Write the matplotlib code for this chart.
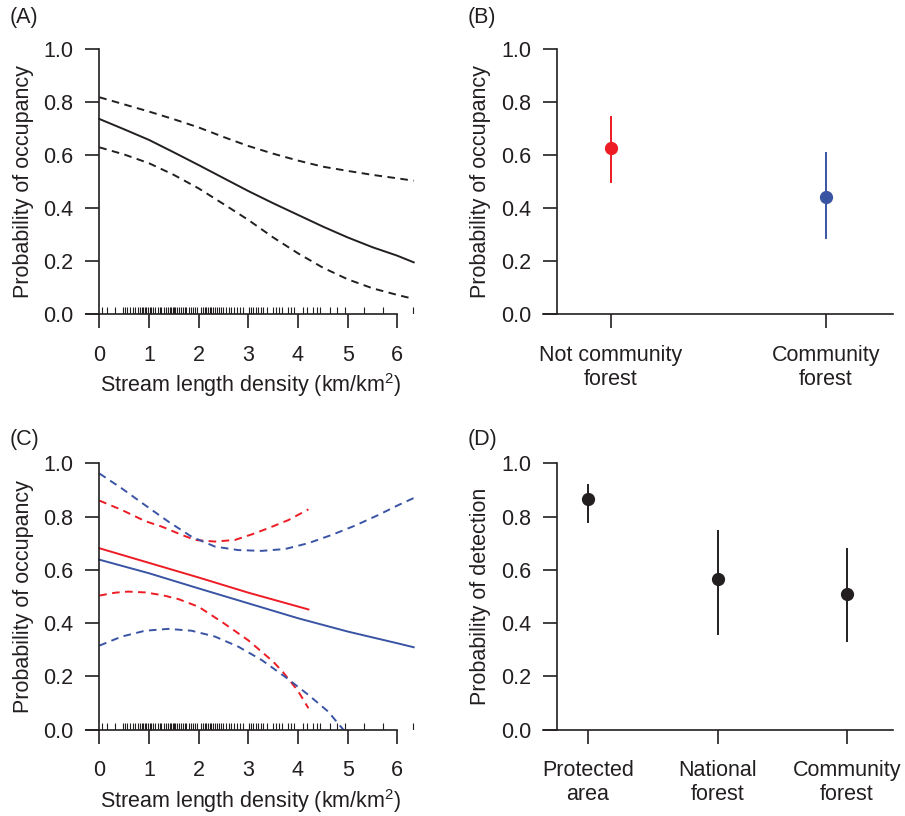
import numpy as np
import matplotlib
matplotlib.use('Agg')
import matplotlib.pyplot as plt

plt.rcParams['font.family'] = ['Liberation Sans', 'DejaVu Sans']
plt.rcParams['mathtext.fontset'] = 'custom'
plt.rcParams['mathtext.rm'] = 'Liberation Sans'
fs = 15.5
plt.rcParams['font.size'] = fs

ink = '#231F20'
red = '#ED1C24'
blue = '#3A54A4'

# ---- Datos ----
# (A) ocupación vs densidad de arroyos
xA = [0, 0.5, 1, 1.5, 2, 2.5, 3, 3.5, 4, 4.5, 5, 5.5, 6, 6.33]
A_fit = [0.736, 0.697, 0.657, 0.610, 0.562, 0.513, 0.464, 0.418, 0.374,
         0.330, 0.289, 0.252, 0.220, 0.195]
A_hi = [0.818, 0.791, 0.764, 0.735, 0.704, 0.668, 0.634, 0.605, 0.579,
        0.556, 0.540, 0.525, 0.512, 0.503]
A_lo = [0.629, 0.602, 0.569, 0.525, 0.474, 0.415, 0.355, 0.289, 0.229,
        0.175, 0.131, 0.097, 0.072, 0.057]

# valores observados (rug)
rug_x = [0.06, 0.16, 0.32, 0.48, 0.52, 0.55, 0.62, 0.68, 0.72, 0.78, 0.82,
         0.85, 0.88, 0.92, 0.95, 0.98, 1.02, 1.05, 1.08, 1.12, 1.18, 1.22,
         1.25, 1.30, 1.35, 1.38, 1.42, 1.45, 1.48, 1.50, 1.53, 1.56, 1.60,
         1.64, 1.68, 1.72, 1.75, 1.80, 1.84, 1.88, 1.92, 1.97, 2.04, 2.08,
         2.12, 2.15, 2.18, 2.22, 2.25, 2.28, 2.32, 2.36, 2.40, 2.45, 2.50,
         2.56, 2.62, 2.66, 2.72, 2.78, 2.84, 2.90, 3.02, 3.06, 3.10, 3.15,
         3.20, 3.25, 3.30, 3.37, 3.49, 3.55, 3.62, 3.67, 3.79, 3.85, 3.92,
         4.11, 4.18, 4.30, 4.38, 4.44, 4.64, 4.78, 4.95, 5.32, 5.71, 6.32]

# (B) bosque comunitario
B_labels = ['Not community\nforest', 'Community\nforest']
B_mean = [0.628, 0.442]
B_lo = [0.498, 0.288]
B_hi = [0.742, 0.609]
B_colors = [red, blue]

# (C) interacción, rojo = no comunitario, azul = comunitario
xC_red = [0, 1, 2, 3, 4, 4.21]
C_red_fit = [0.681, 0.626, 0.571, 0.514, 0.462, 0.451]
xC_red_hi = [0, 0.45, 0.92, 1.26, 1.66, 1.93, 2.33, 2.73, 3.07, 3.40, 3.81, 4.21]
C_red_hi = [0.860, 0.825, 0.783, 0.762, 0.731, 0.712, 0.706, 0.712, 0.733,
            0.756, 0.787, 0.827]
xC_red_lo = [0, 0.32, 0.58, 0.92, 1.26, 1.59, 2.0, 2.5, 3.0, 3.5, 3.7, 4.0, 4.21]
C_red_lo = [0.503, 0.514, 0.518, 0.515, 0.505, 0.490, 0.461, 0.400, 0.335,
            0.255, 0.215, 0.145, 0.080]

xC_blue = [0, 1, 2, 3, 4, 5, 6, 6.33]
C_blue_fit = [0.638, 0.587, 0.530, 0.474, 0.418, 0.368, 0.324, 0.309]
xC_blue_hi = [0, 0.45, 0.92, 1.39, 1.86, 2.33, 2.80, 3.27, 3.74, 4.21, 4.68,
              5.15, 5.62, 6.02, 6.36]
C_blue_hi = [0.962, 0.906, 0.843, 0.781, 0.724, 0.687, 0.674, 0.671, 0.678,
             0.700, 0.731, 0.766, 0.806, 0.843, 0.872]
xC_blue_lo = [0, 0.45, 0.92, 1.39, 1.86, 2.33, 2.80, 3.27, 3.74, 4.21, 4.61,
              4.91, 5.0]
C_blue_lo = [0.315, 0.349, 0.371, 0.378, 0.371, 0.349, 0.311, 0.261, 0.198,
             0.130, 0.067, 0.0, -0.02]

# (D) detección
D_labels = ['Protected\narea', 'National\nforest', 'Community\nforest']
D_mean = [0.865, 0.565, 0.508]
D_lo = [0.779, 0.359, 0.333]
D_hi = [0.920, 0.746, 0.679]

W, H = 905, 816
fig = plt.figure(figsize=(W / 100, H / 100), dpi=100)

def px_axes(x0, x1, y_top, y_bot):
    return fig.add_axes([x0 / W, 1 - y_bot / H, (x1 - x0) / W, (y_bot - y_top) / H])

def estilo(ax, x_left_spine, x_end):
    for s in ['top', 'right']:
        ax.spines[s].set_visible(False)
    for s in ['left', 'bottom']:
        ax.spines[s].set_linewidth(1.2)
        ax.spines[s].set_color(ink)
    ax.spines['left'].set_position(('data', x_left_spine))
    ax.spines['left'].set_bounds(0, 1)
    ax.spines['bottom'].set_bounds(ax.get_xlim()[0], x_end)
    ax.set_ylim(0, 1)
    ax.set_yticks([0, 0.2, 0.4, 0.6, 0.8, 1.0])
    ax.set_yticklabels(['0.0', '0.2', '0.4', '0.6', '0.8', '1.0'])
    ax.tick_params(length=10, width=1.2, color=ink, labelcolor=ink,
                   labelsize=fs, pad=8.5)
    ax.tick_params(axis='x', pad=12)

dash = (0, (3.9, 2.8))
lw = 1.4

# ---- (A) ----
axA = px_axes(86, 414.7, 49, 314)
axA.set_xlim(-0.268, 6.35)
axA.plot(xA, A_fit, color=ink, lw=lw)
axA.plot(xA, A_hi, color=ink, lw=lw, linestyle=dash)
axA.plot(xA, A_lo, color=ink, lw=lw, linestyle=dash)
axA.vlines(rug_x, 0, 0.025, color=ink, lw=0.8)
estilo(axA, 0, 6)
axA.set_xticks(range(7))
axA.set_xlabel('Stream length density (km/km$^{2}$)', color=ink, labelpad=4)
axA.set_ylabel('Probability of occupancy', color=ink, labelpad=7)

# ---- (B) ----
axB = px_axes(543, 893, 49, 314)
axB.set_xlim(0.685, 2.313)
for i in range(2):
    axB.plot([i + 1, i + 1], [B_lo[i], B_hi[i]], color=B_colors[i], lw=lw)
    axB.plot(i + 1, B_mean[i], 'o', color=B_colors[i], ms=8.5)
estilo(axB, 0.750, 2.313)
axB.set_xticks([1, 2])
axB.set_xticklabels(B_labels)
axB.set_ylabel('Probability of occupancy', color=ink, labelpad=7)

# ---- (C) ----
axC = px_axes(86, 414.7, 463.3, 729.5)
axC.set_xlim(-0.268, 6.35)
axC.plot(xC_red, C_red_fit, color=red, lw=lw)
axC.plot(xC_red_hi, C_red_hi, color=red, lw=lw, linestyle=dash)
axC.plot(xC_red_lo, C_red_lo, color=red, lw=lw, linestyle=dash)
axC.plot(xC_blue, C_blue_fit, color=blue, lw=lw)
axC.plot(xC_blue_hi, C_blue_hi, color=blue, lw=lw, linestyle=dash)
axC.plot(xC_blue_lo, C_blue_lo, color=blue, lw=lw, linestyle=dash)
axC.vlines(rug_x, 0, 0.025, color=ink, lw=0.8)
estilo(axC, 0, 6)
axC.set_xticks(range(7))
axC.set_xlabel('Stream length density (km/km$^{2}$)', color=ink, labelpad=4)
axC.set_ylabel('Probability of occupancy', color=ink, labelpad=7)

# ---- (D) ----
axD = px_axes(543, 893, 463.3, 729.5)
axD.set_xlim(0.6525, 3.355)
for i in range(3):
    axD.plot([i + 1, i + 1], [D_lo[i], D_hi[i]], color=ink, lw=lw)
    axD.plot(i + 1, D_mean[i], 'o', color=ink, ms=8.5)
estilo(axD, 0.7606, 3.355)
axD.set_xticks([1, 2, 3])
axD.set_xticklabels(D_labels)
axD.set_ylabel('Probability of detection', color=ink, labelpad=7)

# etiquetas de panel
for txt, x, y in [('(A)', 10, 18), ('(B)', 468, 18), ('(C)', 10, 440), ('(D)', 468, 440)]:
    fig.text(x / W, 1 - y / H, txt, fontsize=fs, color=ink, va='center', ha='left')

plt.savefig('out.png', dpi=100)
